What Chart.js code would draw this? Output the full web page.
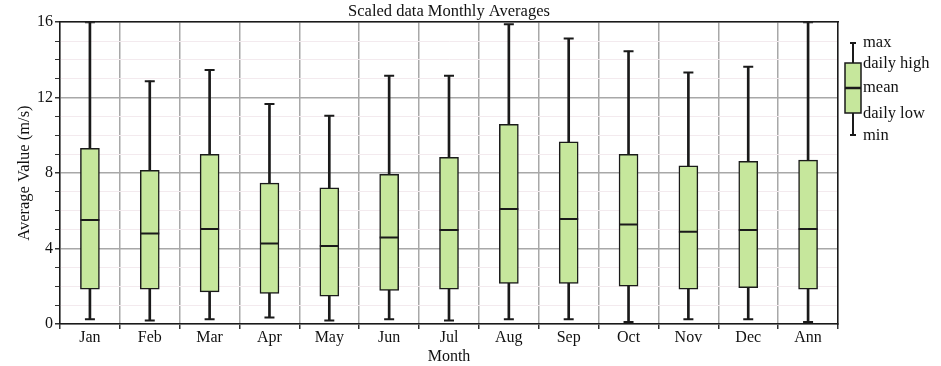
<!DOCTYPE html>
<html><head><meta charset="utf-8">
<script src="https://cdn.jsdelivr.net/npm/chart.js@4/dist/chart.umd.min.js"></script>
<style>html,body{margin:0;padding:0;background:#fff}#wrap{width:941px;height:366px;position:relative}</style>
</head><body><div id="wrap"><canvas id="c" width="941" height="366"></canvas></div>
<script>
const months = ['Jan','Feb','Mar','Apr','May','Jun','Jul','Aug','Sep','Oct','Nov','Dec','Ann'];
const minVals   = [0.25,0.18,0.25,0.34,0.18,0.25,0.18,0.25,0.25,0.11,0.25,0.25,0.11];
const lowVals   = [1.85,1.85,1.70,1.62,1.48,1.78,1.85,2.15,2.15,2.01,1.84,1.92,1.84];
const meanVals  = [5.51,4.80,5.03,4.27,4.13,4.59,4.98,6.09,5.56,5.28,4.89,4.98,5.03];
const highVals  = [9.31,8.14,8.99,7.47,7.22,7.93,8.83,10.58,9.66,8.99,8.39,8.62,8.69];
const maxVals   = [16.0,12.87,13.46,11.66,11.04,13.16,13.16,15.89,15.13,14.46,13.33,13.63,16.0];
const legendLabels = ['max','daily high','mean','daily low','min'];

const SERIF = '"Liberation Serif", "DejaVu Serif", serif';
const GREEN = '#c6e79c';
const DARK = '#1a1a1a';

const legendPlugin = {
  id: 'boxLegend',
  afterDraw(chart) {
    const ctx = chart.ctx;
    const cx = 853, yMax = 43, yHigh = 63, yMean = 88, yLow = 113, yMin = 135;
    ctx.save();
    ctx.strokeStyle = DARK; ctx.lineWidth = 2;
    ctx.beginPath(); ctx.moveTo(cx, yMax); ctx.lineTo(cx, yMin); ctx.stroke();
    ctx.beginPath(); ctx.moveTo(cx-3, yMax); ctx.lineTo(cx+3, yMax); ctx.moveTo(cx-3, yMin); ctx.lineTo(cx+3, yMin); ctx.stroke();
    ctx.fillStyle = GREEN; ctx.fillRect(cx-8, yHigh, 16, yLow-yHigh);
    ctx.lineWidth = 1.5; ctx.strokeRect(cx-8, yHigh, 16, yLow-yHigh);
    ctx.lineWidth = 2.5; ctx.beginPath(); ctx.moveTo(cx-8, yMean); ctx.lineTo(cx+8, yMean); ctx.stroke();
    ctx.fillStyle = '#111'; ctx.font = '16.5px ' + SERIF; ctx.textBaseline = 'middle'; ctx.textAlign = 'left';
    const ys = [yMax, yHigh+1, yMean, yLow+1, yMin+1];
    legendLabels.forEach((t,i) => ctx.fillText(t, 863, ys[i]));
    ctx.restore();
  }
};

new Chart(document.getElementById('c'), {
  data: {
    labels: months,
    datasets: [
      { type:'bar', label:'whisker', data: months.map((m,i)=>[minVals[i], maxVals[i]]),
        backgroundColor: DARK, barThickness: 2, grouped:false, order: 4, borderWidth:0 },
      { type:'bar', label:'box', data: months.map((m,i)=>[lowVals[i], highVals[i]]),
        backgroundColor: GREEN, borderColor: DARK, borderWidth: 1.5, borderSkipped:false,
        barThickness: 19, grouped:false, order: 3 },
      { type:'line', label:'min', data: minVals, showLine:false, pointStyle:'line',
        pointRadius:5, pointBorderWidth:2, borderColor:DARK, order:1 },
      { type:'line', label:'max', data: maxVals, showLine:false, pointStyle:'line',
        pointRadius:5, pointBorderWidth:2, borderColor:DARK, order:1 },
      { type:'line', label:'mean', data: meanVals, showLine:false, pointStyle:'line',
        pointRadius:9.5, pointBorderWidth:2, borderColor:DARK, order:1 }
    ]
  },
  options: {
    responsive:false, animation:false, devicePixelRatio:1,
    layout:{ padding:{ left:0, right:103, top:0, bottom:0 } },
    plugins:{
      legend:{ display:false }, tooltip:{ enabled:false },
      title:{ display:true, text:'Scaled data Monthly Averages', fullSize:false,
        color:'#111', font:{ family:SERIF, size:16.5, weight:'normal', lineHeight:1.1 }, padding:{ top:3, bottom:1 } }
    },
    scales:{
      x:{ type:'category', position:'bottom', offset:true,
        grid:{ display:true, offset:true, color:'#a8a8a8', lineWidth:1.5, drawTicks:true, tickLength:5, tickColor:'#333' },
        border:{ display:true, color:DARK, width:1.5 },
        ticks:{ color:'#111', font:{ family:SERIF, size:16, lineHeight:1.1 }, padding:0, maxRotation:0 },
        title:{ display:true, text:'Month', color:'#111', font:{ family:SERIF, size:16, lineHeight:1.1 }, padding:{ top:0, bottom:0 } },
        afterFit(s){ s.height = 42; }
      },
      x2:{ type:'category', position:'top', display:true,
        grid:{ display:false, drawTicks:false }, border:{ display:true, color:DARK, width:1.5 },
        ticks:{ display:false }, afterFit(s){ s.height = 0; } },
      y:{ type:'linear', position:'left', min:0, max:16,
        ticks:{ stepSize:1, autoSkip:false, color:'#111', font:{ family:SERIF, size:16 }, padding:2,
          callback:(v)=> (v % 4 === 0 ? String(v) : '') },
        grid:{ color:(c)=> (c.tick && c.tick.value % 4 === 0 ? '#a8a8a8' : '#f3eaee'),
          lineWidth:(c)=> (c.tick && c.tick.value % 4 === 0 ? 1.5 : 1),
          tickColor:'#333', tickLength:5 },
        border:{ display:true, color:DARK, width:1.5 },
        title:{ display:true, text:'Average Value (m/s)', color:'#111', font:{ family:SERIF, size:16.5 }, padding:{ top:15, bottom:0 } },
        afterFit(s){ s.width = 60; }
      },
      y2:{ type:'linear', position:'right', min:0, max:16, display:true,
        grid:{ display:false, drawTicks:false }, border:{ display:true, color:DARK, width:1.5 },
        ticks:{ display:false }, afterFit(s){ s.width = 0; } }
    }
  },
  plugins:[legendPlugin]
});
</script></body></html>
